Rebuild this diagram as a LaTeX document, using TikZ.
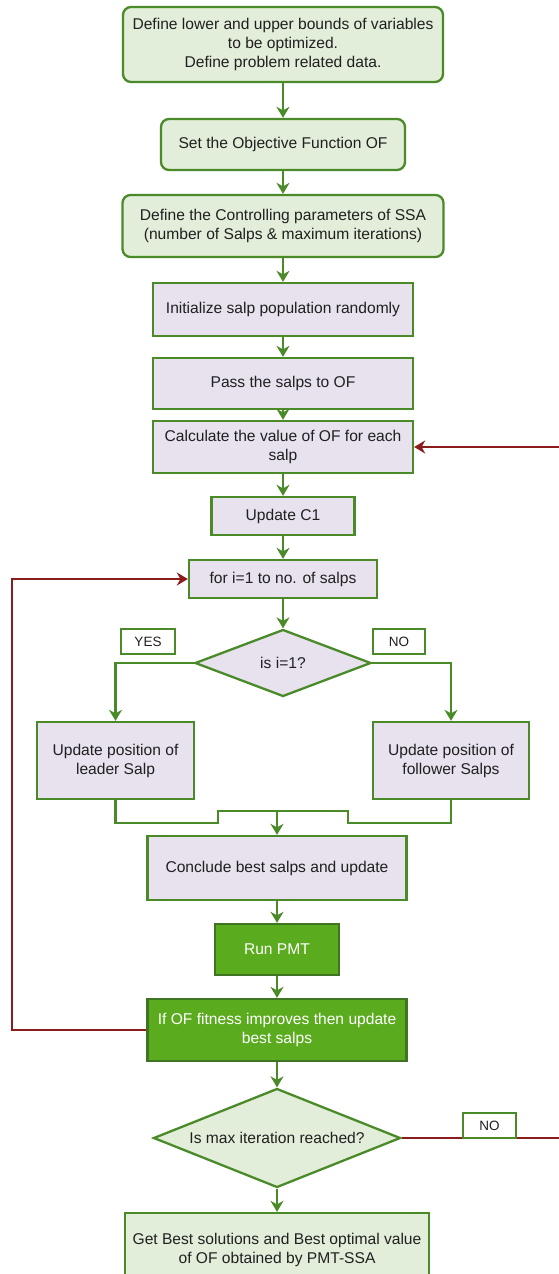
\documentclass[tikz,border=0pt]{standalone}
\usepackage{fontspec}
\setmainfont{Liberation Sans}
\usetikzlibrary{arrows.meta,shapes.geometric}
\definecolor{gborder}{HTML}{4A8A28}
\definecolor{lgreen}{HTML}{E2EEDA}
\definecolor{lav}{HTML}{E8E1EE}
\definecolor{dgreen}{HTML}{5AAB1E}
\definecolor{dred}{HTML}{8A1C1C}
\definecolor{ink}{HTML}{202020}
\begin{document}
\begin{tikzpicture}[x=1pt,y=-1pt,
  base/.style={draw=gborder, line width=2.3pt, align=center, text=ink, font=\fontsize{15.6}{19}\selectfont, inner sep=0pt},
  gbox/.style={base, fill=lgreen, rounded corners=8pt},
  lbox/.style={base, fill=lav},
  dbox/.style={base, fill=dgreen, text=white, draw=gborder!85!black},
  fbox/.style={base, fill=lgreen},
  tagbox/.style={base, fill=white, font=\fontsize{13.5}{15}\selectfont},
  dec/.style={base, diamond, aspect=1},
  flow/.style={draw=gborder, line width=2.3pt, -{Stealth[length=11pt,width=13pt,inset=3.5pt]}},
  link/.style={draw=gborder, line width=2.3pt},
  back/.style={draw=dred, line width=2pt},
  backarrow/.style={back, -{Stealth[length=11pt,width=13pt,inset=3.5pt]}}
]
\useasboundingbox (0,0) rectangle (559,1274);

\node[gbox, minimum width=320pt, minimum height=75pt] (b1) at (283,44.5) {Define lower and upper bounds of variables\\to be optimized.\\Define problem related data.};
\node[gbox, minimum width=244pt, minimum height=51pt] (b2) at (283,144.5) {Set the Objective Function OF};
\node[gbox, minimum width=321pt, minimum height=62pt] (b3) at (283,226) {Define the Controlling parameters of SSA\\(number of Salps \& maximum iterations)};
\node[lbox, minimum width=260pt, minimum height=53pt] (b4) at (283,309.5) {Initialize salp population randomly};
\node[lbox, minimum width=260pt, minimum height=51pt] (b5) at (283,383.5) {Pass the salps to OF};
\node[lbox, minimum width=260pt, minimum height=52pt] (b6) at (283,447) {Calculate the value of OF for each\\salp};
\node[lbox, minimum width=143pt, minimum height=38pt] (b7) at (283,516) {Update C1};
\node[lbox, minimum width=188pt, minimum height=38pt] (b8) at (283,579) {for i=1 to no. of salps};
\node[dec, fill=lav, minimum width=176pt, minimum height=67pt] (d1) at (283,663) {\makebox[0pt]{is i=1?}};
\node[tagbox, minimum width=54pt, minimum height=25pt] (yes) at (148,641.5) {YES};
\node[tagbox, minimum width=52pt, minimum height=25pt] (no1) at (399,641.5) {NO};
\node[lbox, minimum width=157pt, minimum height=77pt] (lead) at (115.5,760.5) {Update position of\\leader Salp};
\node[lbox, minimum width=156pt, minimum height=77pt] (foll) at (451,760.5) {Update position of\\follower Salps};
\node[lbox, minimum width=259pt, minimum height=64pt] (conc) at (277,868) {Conclude best salps and update};
\node[dbox, minimum width=124pt, minimum height=51pt] (pmt) at (277,949.5) {Run PMT};
\node[dbox, minimum width=259pt, minimum height=62pt] (ifof) at (277,1030) {If OF fitness improves then update\\best salps};
\node[dec, fill=lgreen, minimum width=247pt, minimum height=99pt] (d2) at (277,1138) {\makebox[0pt]{Is max iteration reached?}};
\node[fbox, minimum width=304pt, minimum height=74pt] (fin) at (277,1250) {Get Best solutions and Best optimal value\\of OF obtained by PMT-SSA};

\coordinate (mL) at (218,823);
\coordinate (mLu) at (218,811);
\coordinate (m) at (277,811);
\coordinate (mRu) at (348,811);
\coordinate (mR) at (348,823);
\coordinate (loopL) at (12,1030);
\coordinate (edgeB) at (559,1138);
\coordinate (edgeT) at (559,447);

\draw[flow] (b1) -- (b2);
\draw[flow] (b2) -- (b3);
\draw[flow] (b3) -- (b4);
\draw[flow] (b4) -- (b5);
\draw[flow] (b5) -- (b6);
\draw[flow] (b6) -- (b7);
\draw[flow] (b7) -- (b8);
\draw[flow] (b8) -- (d1);
\draw[flow] (d1.west) -| (lead.north);
\draw[flow] (d1.east) -| (foll.north);
\draw[link] (lead.south) |- (mL) -- (mLu) -- (mRu) -- (mR) -| (foll.south);
\draw[flow] (m) -- (conc.north);
\draw[flow] (conc.south) -- (pmt.north);
\draw[flow] (pmt) -- (ifof);
\draw[flow] (ifof) -- (d2);
\draw[flow] (d2) -- (fin);

\draw[backarrow] (ifof.west) -- (loopL) |- (b8.west);
\draw[back] (d2.east) -- (edgeB);
\draw[backarrow] (edgeT) -- (b6.east);
\node[tagbox, minimum width=53pt, minimum height=25pt] (no2) at (489.5,1125.5) {NO};
\end{tikzpicture}
\end{document}
